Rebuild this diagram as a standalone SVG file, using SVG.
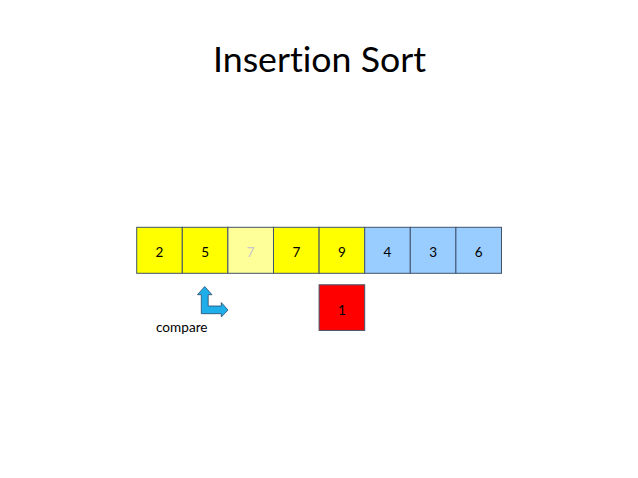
<svg xmlns="http://www.w3.org/2000/svg" width="638" height="478" viewBox="0 0 638 478">
<style>
text{font-variant-ligatures:none}
.box{stroke:#41536b;stroke-width:1}
.y{fill:#ffff00}.ly{fill:#ffff99}.b{fill:#99ccff}.r{fill:#ff0000}
.num{font-family:Lato,"Liberation Sans",Arial,sans-serif;font-size:13.5px;fill:#000;text-anchor:middle}
.title{font-family:Lato,"Liberation Sans",Arial,sans-serif;font-size:34px;fill:#000}
.lbl{font-family:Lato,"Liberation Sans",Arial,sans-serif;font-size:14px;fill:#000}
</style>
<rect width="638" height="478" fill="#fff"/>
<text class="title" x="213" y="71.5" textLength="213" lengthAdjust="spacingAndGlyphs">Insertion Sort</text>
<g id="n1"><rect class="box y" x="136.7" y="227.3" width="45.6" height="46"/><text class="num" x="159.5" y="256.5">2</text></g>
<g id="n2"><rect class="box y" x="182.3" y="227.3" width="45.6" height="46"/><text class="num" x="205.1" y="256.5">5</text></g>
<g id="n3"><rect class="box ly" x="227.9" y="227.3" width="45.6" height="46"/><text class="num" x="250.7" y="256.5" style="fill:#c8c8c8">7</text></g>
<g id="n4"><rect class="box y" x="273.5" y="227.3" width="45.6" height="46"/><text class="num" x="296.3" y="256.5">7</text></g>
<g id="n5"><rect class="box y" x="319.1" y="227.3" width="45.6" height="46"/><text class="num" x="341.9" y="256.5">9</text></g>
<g id="n6"><rect class="box b" x="364.7" y="227.3" width="45.6" height="46"/><text class="num" x="387.5" y="256.5">4</text></g>
<g id="n7"><rect class="box b" x="410.3" y="227.3" width="45.6" height="46"/><text class="num" x="433.1" y="256.5">3</text></g>
<g id="n8"><rect class="box b" x="455.9" y="227.3" width="45.6" height="46"/><text class="num" x="478.7" y="256.5">6</text></g>
<g id="n9"><rect class="box r" x="319.1" y="284.8" width="45.6" height="45.6"/><text class="num" x="341.9" y="314.5">1</text></g>
<g id="compare">
<path d="M204.7,286.5 L212,294.7 L208.2,294.7 L208.2,306 L221.3,306 L221.3,302.5 L228,310 L221.3,317 L221.3,313.7 L201.3,313.7 L201.3,294.7 L197.5,294.7 Z" fill="#1eaeea" stroke="#2a4a6a" stroke-width="0.8" stroke-linejoin="miter"/>
<text class="lbl" x="156" y="332" textLength="51.5" lengthAdjust="spacingAndGlyphs">compare</text>
</g>
<g id="connectors"></g>
</svg>
